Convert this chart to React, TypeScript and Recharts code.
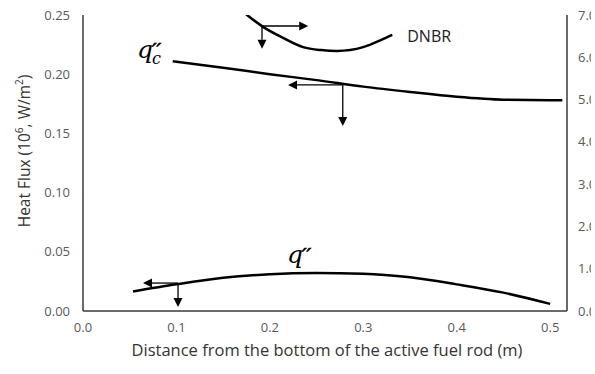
import React from "react";
import {
  LineChart,
  Line,
  XAxis,
  YAxis,
  ReferenceLine,
  ReferenceDot,
} from "recharts";

// distance along rod (m) and values
const qX = [0.0535, 0.1, 0.15, 0.2, 0.25, 0.3, 0.35, 0.4, 0.45, 0.5];
const qY = [0.0165, 0.0225, 0.028, 0.031, 0.032, 0.0315, 0.0285, 0.0225, 0.0155, 0.006];

const qcX = [0.096, 0.15, 0.2, 0.25, 0.3, 0.35, 0.4, 0.45, 0.5, 0.513];
const qcY = [0.211, 0.2055, 0.2, 0.195, 0.1895, 0.185, 0.181, 0.1785, 0.178, 0.178];

// DNBR on the right axis; first point sits above the frame and gets clipped
const dnbrX = [0.165, 0.1756, 0.1927, 0.214, 0.2355, 0.255, 0.272, 0.2998, 0.321, 0.331];
const dnbrY = [7.2, 7.0, 6.72, 6.46, 6.24, 6.17, 6.15, 6.24, 6.43, 6.53];

const xTicks = [0, 0.1, 0.2, 0.3, 0.4, 0.5];
const leftTicks = [0, 0.05, 0.1, 0.15, 0.2, 0.25];
const rightTicks = [0, 1, 2, 3, 4, 5, 6, 7];

// axis-pointer arrows: [x1, y1, x2, y2] in data units
const dnbrArrows = [
  [0.1916, 6.74, 0.241, 6.74],
  [0.1916, 6.74, 0.1916, 6.2],
];
const fluxArrows = [
  [0.278, 0.1909, 0.2195, 0.1909],
  [0.278, 0.1909, 0.278, 0.1563],
  [0.1017, 0.0236, 0.0642, 0.0236],
  [0.1017, 0.0236, 0.1017, 0.0034],
];

const zip = (xs: number[], ys: number[]) => xs.map((x, i) => ({ x, y: ys[i] }));
const qData = zip(qX, qY);
const qcData = zip(qcX, qcY);
const dnbrData = zip(dnbrX, dnbrY);

const frame = "#3a3a3a";
const tickStyle = { fontSize: 13, fill: "#595959", fontFamily: "Open Sans" };

function Arrow(props: any) {
  const { x1, y1, x2, y2 } = props;
  const dx = x2 - x1;
  const dy = y2 - y1;
  const len = Math.hypot(dx, dy) || 1;
  const ux = dx / len;
  const uy = dy / len;
  const hl = 9;
  const hw = 4.5;
  const bx = x2 - ux * hl;
  const by = y2 - uy * hl;
  return (
    <g>
      <line x1={x1} y1={y1} x2={bx} y2={by} stroke="#000" strokeWidth={1.3} />
      <polygon
        points={`${x2},${y2} ${bx - uy * hw},${by + ux * hw} ${bx + uy * hw},${by - ux * hw}`}
        fill="#000"
      />
    </g>
  );
}

function Primes({ x, y }: { x: number; y: number }) {
  return (
    <text x={x} y={y} fontSize={20} fontFamily="DejaVu Sans" fontStyle="italic" stroke="#000" strokeWidth={0.7}>
      ′′
    </text>
  );
}

function QcLabel(props: any) {
  const { cx, cy } = props;
  return (
    <g fill="#000">
      <text x={cx} y={cy} fontSize={25} fontFamily="DejaVu Serif" fontStyle="italic">q</text>
      <text x={cx + 15} y={cy + 6} fontSize={16} fontFamily="DejaVu Serif" fontStyle="italic">c</text>
      <Primes x={cx + 15} y={cy - 1} />
    </g>
  );
}

function QLabel(props: any) {
  const { cx, cy } = props;
  return (
    <g fill="#000">
      <text x={cx} y={cy} fontSize={25} fontFamily="DejaVu Serif" fontStyle="italic">q</text>
      <Primes x={cx + 15} y={cy - 1} />
    </g>
  );
}

function DnbrLabel(props: any) {
  return (
    <text x={props.cx} y={props.cy} fontFamily="Open Sans" fontSize={16} fill="#222">
      DNBR
    </text>
  );
}

function XTitle(props: any) {
  const { x, y, width } = props.viewBox;
  return (
    <text x={x + width / 2 + 2} y={y + 45} textAnchor="middle" fontFamily="Open Sans" fontSize={16.5} fill="#333">
      Distance from the bottom of the active fuel rod (m)
    </text>
  );
}

function YTitle(props: any) {
  const { x, y, height } = props.viewBox;
  const cx = x + 30;
  const cy = y + height / 2 - 12;
  return (
    <text
      x={cx}
      y={cy}
      textAnchor="middle"
      transform={`rotate(-90 ${cx} ${cy})`}
      fontFamily="Open Sans"
      fontSize={15.5}
      fill="#333"
    >
      Heat Flux (10<tspan fontSize={10} dy={-7}>6</tspan>
      <tspan dy={7}>, W/m</tspan>
      <tspan fontSize={10} dy={-7}>2</tspan>
      <tspan dy={7}>)</tspan>
    </text>
  );
}

export default function App() {
  return (
    <div
      style={{
        position: "absolute",
        left: 0,
        top: 0,
        width: 595,
        height: 374,
        background: "#fff",
        overflow: "hidden",
      }}
    >
      <div style={{ width: 591, height: 374, overflow: "hidden" }}>
        <LineChart width={620} height={374} margin={{ top: 15, right: 0, bottom: 0, left: 0 }}>
          <XAxis
            xAxisId="b"
            type="number"
            dataKey="x"
            domain={[0, 0.518]}
            ticks={xTicks}
            tickFormatter={(v) => v.toFixed(1)}
            tick={tickStyle}
            tickLine={false}
            tickSize={6}
            tickMargin={6}
            height={63}
            axisLine={{ stroke: frame, strokeWidth: 1.5 }}
            allowDataOverflow
            label={<XTitle />}
          />
          <XAxis
            xAxisId="t"
            orientation="top"
            type="number"
            domain={[0, 0.518]}
            tick={false}
            tickLine={false}
            height={0}
            axisLine={{ stroke: frame, strokeWidth: 1.5 }}
          />
          <YAxis
            yAxisId="l"
            type="number"
            domain={[0, 0.25]}
            ticks={leftTicks}
            tickFormatter={(v) => v.toFixed(2)}
            tick={tickStyle}
            tickLine={false}
            tickSize={6}
            tickMargin={7}
            width={83}
            axisLine={{ stroke: frame, strokeWidth: 1.5 }}
            allowDataOverflow
            label={<YTitle />}
          />
          <YAxis
            yAxisId="r"
            orientation="right"
            type="number"
            domain={[0, 7]}
            ticks={rightTicks}
            tickFormatter={(v) => v.toFixed(1)}
            tick={tickStyle}
            tickLine={false}
            tickSize={6}
            tickMargin={5}
            width={53}
            axisLine={{ stroke: frame, strokeWidth: 1.5 }}
            allowDataOverflow
          />
          <Line
            xAxisId="b"
            yAxisId="l"
            data={qData}
            dataKey="y"
            type="monotone"
            stroke="#000"
            strokeWidth={2.5}
            dot={false}
            isAnimationActive={false}
          />
          <Line
            xAxisId="b"
            yAxisId="l"
            data={qcData}
            dataKey="y"
            type="monotone"
            stroke="#000"
            strokeWidth={2.5}
            dot={false}
            isAnimationActive={false}
          />
          <Line
            xAxisId="b"
            yAxisId="r"
            data={dnbrData}
            dataKey="y"
            type="monotone"
            stroke="#000"
            strokeWidth={2.5}
            dot={false}
            isAnimationActive={false}
          />
          {dnbrArrows.map((a, i) => (
            <ReferenceLine
              key={`d${i}`}
              xAxisId="b"
              yAxisId="r"
              segment={[{ x: a[0], y: a[1] }, { x: a[2], y: a[3] }]}
              shape={Arrow}
            />
          ))}
          {fluxArrows.map((a, i) => (
            <ReferenceLine
              key={`f${i}`}
              xAxisId="b"
              yAxisId="l"
              segment={[{ x: a[0], y: a[1] }, { x: a[2], y: a[3] }]}
              shape={Arrow}
            />
          ))}
          <ReferenceDot xAxisId="b" yAxisId="l" x={0.0578} y={0.2137} r={0} shape={QcLabel} />
          <ReferenceDot xAxisId="b" yAxisId="l" x={0.2184} y={0.0405} r={0} shape={QLabel} />
          <ReferenceDot xAxisId="b" yAxisId="l" x={0.347} y={0.2272} r={0} shape={DnbrLabel} />
        </LineChart>
      </div>
    </div>
  );
}
